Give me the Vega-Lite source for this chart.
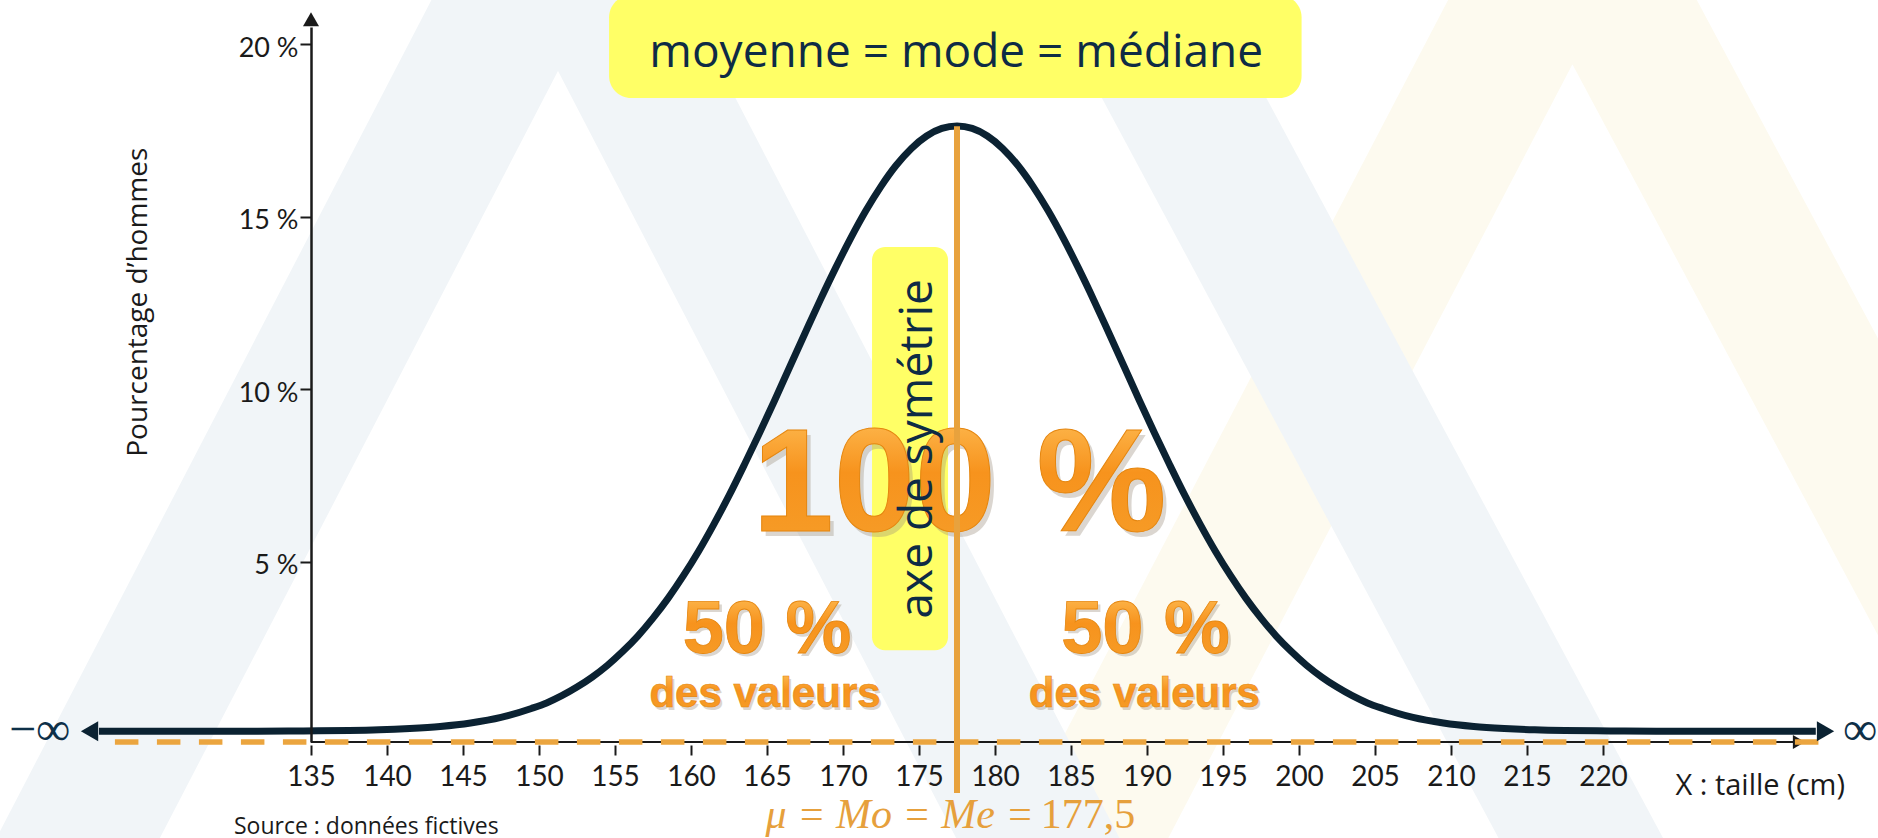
{
  "$schema": "https://vega.github.io/schema/vega-lite/v6.json",
  "autosize": {"type": "none"},
  "width": 1482,
  "height": 715,
  "padding": {"left": 311, "top": 27, "right": 85, "bottom": 96},
  "background": "white",
  "config": {"view": {"stroke": null}},
  "datasets": {
    "curve": [
      {"x": 121.05, "y": 0.08}, {"x": 124, "y": 0.08}, {"x": 127.5, "y": 0.08}, {"x": 131.5, "y": 0.08},
      {"x": 134.5, "y": 0.09}, {"x": 137.5, "y": 0.10}, {"x": 139.5, "y": 0.12}, {"x": 141.5, "y": 0.16},
      {"x": 143.5, "y": 0.22}, {"x": 145.5, "y": 0.32}, {"x": 147.5, "y": 0.48}, {"x": 149.5, "y": 0.74},
      {"x": 150.5, "y": 0.90}, {"x": 151.5, "y": 1.11}, {"x": 152.5, "y": 1.36}, {"x": 153.5, "y": 1.65},
      {"x": 154.5, "y": 1.99}, {"x": 155.5, "y": 2.39}, {"x": 156.5, "y": 2.84}, {"x": 157.5, "y": 3.36},
      {"x": 158.5, "y": 3.94}, {"x": 159.5, "y": 4.59}, {"x": 160.5, "y": 5.30}, {"x": 161.5, "y": 6.08},
      {"x": 162.5, "y": 6.91}, {"x": 163.5, "y": 7.80}, {"x": 164.5, "y": 8.72}, {"x": 165.5, "y": 9.67},
      {"x": 166.5, "y": 10.65}, {"x": 167.5, "y": 11.62}, {"x": 168.5, "y": 12.58}, {"x": 169.5, "y": 13.50},
      {"x": 170.5, "y": 14.37}, {"x": 171.5, "y": 15.17}, {"x": 172.5, "y": 15.88}, {"x": 173.5, "y": 16.49},
      {"x": 174.5, "y": 16.98}, {"x": 175.5, "y": 17.34}, {"x": 176.5, "y": 17.56}, {"x": 177.5, "y": 17.63},
      {"x": 178.5, "y": 17.56}, {"x": 179.5, "y": 17.34}, {"x": 180.5, "y": 16.98}, {"x": 181.5, "y": 16.49},
      {"x": 182.5, "y": 15.88}, {"x": 183.5, "y": 15.17}, {"x": 184.5, "y": 14.37}, {"x": 185.5, "y": 13.50},
      {"x": 186.5, "y": 12.58}, {"x": 187.5, "y": 11.62}, {"x": 188.5, "y": 10.65}, {"x": 189.5, "y": 9.67},
      {"x": 190.5, "y": 8.72}, {"x": 191.5, "y": 7.80}, {"x": 192.5, "y": 6.91}, {"x": 193.5, "y": 6.08},
      {"x": 194.5, "y": 5.30}, {"x": 195.5, "y": 4.59}, {"x": 196.5, "y": 3.94}, {"x": 197.5, "y": 3.36},
      {"x": 198.5, "y": 2.84}, {"x": 199.5, "y": 2.39}, {"x": 200.5, "y": 1.99}, {"x": 201.5, "y": 1.65},
      {"x": 202.5, "y": 1.36}, {"x": 203.5, "y": 1.11}, {"x": 204.5, "y": 0.90}, {"x": 205.5, "y": 0.74},
      {"x": 207.5, "y": 0.48}, {"x": 209.5, "y": 0.32}, {"x": 211.5, "y": 0.22}, {"x": 213.5, "y": 0.16},
      {"x": 215.5, "y": 0.12}, {"x": 217.5, "y": 0.10}, {"x": 220.5, "y": 0.09}, {"x": 223.5, "y": 0.08},
      {"x": 227.5, "y": 0.08}, {"x": 231, "y": 0.08}, {"x": 234.0, "y": 0.08}
    ],
    "stripesBlue": [
      {"s": "a", "o": 1, "x": 117.57, "y": -4.81}, {"s": "a", "o": 2, "x": 151.25, "y": 23.79}, {"s": "a", "o": 3, "x": 184.93, "y": -4.81},
      {"s": "b", "o": 1, "x": 187.24, "y": 22.72}, {"s": "b", "o": 2, "x": 220.72, "y": -4.81}
    ],
    "stripesCream": [
      {"s": "c", "o": 1, "x": 184.08, "y": -4.81}, {"s": "c", "o": 2, "x": 217.94, "y": 23.76}, {"s": "c", "o": 3, "x": 252.63, "y": -4.81}
    ]
  },
  "encoding": {
    "x": {
      "field": "x", "type": "quantitative",
      "scale": {"domain": [135, 232.5], "nice": false, "zero": false},
      "axis": {
        "values": [135, 140, 145, 150, 155, 160, 165, 170, 175, 180, 185, 190, 195, 200, 205, 210, 215, 220],
        "format": "d", "title": null, "domain": false, "grid": false, "offset": 3,
        "tickSize": 10, "tickWidth": 2, "tickColor": "#1a1a1a",
        "labelFont": "Lato", "labelFontSize": 28,
        "labelColor": "#1a1a1a", "labelPadding": 8, "labelFlush": false, "labelOverlap": false, "zindex": 1
      }
    },
    "y": {
      "field": "y", "type": "quantitative",
      "scale": {"domain": [-0.232, 20.5], "nice": false, "zero": false},
      "axis": {
        "values": [5, 10, 15, 20], "labelExpr": "datum.value + ' %'", "title": null, "grid": false,
        "domain": true, "domainColor": "#1a1a1a", "domainWidth": 2.5,
        "tickSize": 11, "tickWidth": 2, "tickColor": "#1a1a1a",
        "labelFont": "Lato", "labelFontSize": 27,
        "labelColor": "#1a1a1a", "labelPadding": 2, "labelOffset": 4, "zindex": 1
      }
    }
  },
  "layer": [
    {
      "data": {"name": "stripesCream"},
      "mark": {"type": "line", "color": "#FDFAEF", "strokeWidth": 140, "strokeJoin": "miter", "strokeCap": "butt"},
      "encoding": {"detail": {"field": "s"}, "order": {"field": "o"}}
    },
    {
      "data": {"name": "stripesBlue"},
      "mark": {"type": "line", "color": "#F1F5F8", "strokeWidth": 145, "strokeJoin": "miter", "strokeCap": "butt"},
      "encoding": {"detail": {"field": "s"}, "order": {"field": "o"}}
    },
    {
      "data": {"values": [{"x": 135, "x2": 232.5, "y": -0.232}]},
      "mark": {"type": "rule", "color": "#1a1a1a", "strokeWidth": 2},
      "encoding": {"x2": {"field": "x2"}}
    },
    {
      "data": {"values": [{"x": 232.89, "y": -0.232}]},
      "mark": {"type": "point", "shape": "triangle-right", "size": 196, "filled": true, "color": "#1a1a1a", "opacity": 1}
    },
    {
      "data": {"values": [{"x": 135, "y": 20.725}]},
      "mark": {"type": "point", "shape": "triangle-up", "size": 256, "filled": true, "color": "#1a1a1a", "opacity": 1}
    },
    {
      "data": {"values": [{"x": 122.1, "x2": 234.28, "y": -0.232}]},
      "mark": {"type": "rule", "color": "#EBA53F", "strokeWidth": 5.5, "strokeDash": [23.5, 18.5]},
      "encoding": {"x2": {"field": "x2"}}
    },
    {
      "data": {"name": "curve"},
      "mark": {"type": "line", "color": "#0B2232", "strokeWidth": 7, "interpolate": "monotone"}
    },
    {
      "data": {"values": [{"x": 120.43, "y": 0.08}]},
      "mark": {"type": "point", "shape": "triangle-left", "size": 400, "filled": true, "color": "#0B2232", "opacity": 1}
    },
    {
      "data": {"values": [{"x": 234.64, "y": 0.08}]},
      "mark": {"type": "point", "shape": "triangle-right", "size": 400, "filled": true, "color": "#0B2232", "opacity": 1}
    },
    {
      "data": {"values": [{"x": 154.61, "x2": 200.17, "y": 21.42, "y2": 18.44}]},
      "mark": {"type": "rect", "color": "#FFFF66", "cornerRadius": 22},
      "encoding": {"x2": {"field": "x2"}, "y2": {"field": "y2"}}
    },
    {
      "data": {"values": [{"x": 171.91, "x2": 176.91, "y": 14.12, "y2": 2.43}]},
      "mark": {"type": "rect", "color": "#FFFF66", "cornerRadius": 13},
      "encoding": {"x2": {"field": "x2"}, "y2": {"field": "y2"}}
    },
    {
      "data": {"values": [{"x": 177.45, "y": 19.33, "t": "moyenne = mode = médiane"}]},
      "mark": {"type": "text", "font": "Open Sans", "fontSize": 46, "color": "#0E2B45", "align": "center", "baseline": "alphabetic"},
      "encoding": {"text": {"field": "t"}}
    },
    {
      "data": {"values": [{"x": 177.66, "y": 5.88, "t": "100 %"}]},
      "mark": {"type": "text", "font": "Liberation Sans", "fontWeight": "bold", "fontSize": 146, "color": "#9A8C7A", "opacity": 0.35, "dx": 4, "dy": 5, "align": "center", "baseline": "alphabetic"},
      "encoding": {"text": {"field": "t"}}
    },
    {
      "data": {"values": [{"x": 177.66, "y": 5.88, "t": "100 %"}]},
      "mark": {"type": "text", "font": "Liberation Sans", "fontWeight": "bold", "fontSize": 146, "align": "center", "baseline": "alphabetic",
        "fill": {"gradient": "linear", "x1": 0, "y1": 0, "x2": 0, "y2": 1, "stops": [{"offset": 0, "color": "#FFC45E"}, {"offset": 0.45, "color": "#F7931D"}, {"offset": 0.8, "color": "#F69A25"}, {"offset": 1, "color": "#FDB648"}]},
        "stroke": "#E5860F", "strokeWidth": 1},
      "encoding": {"text": {"field": "t"}}
    },
    {
      "data": {"values": [{"x": 165.0, "y": 2.35, "t": "50 %"}, {"x": 189.9, "y": 2.35, "t": "50 %"}]},
      "mark": {"type": "text", "font": "Liberation Sans", "fontWeight": "bold", "fontSize": 74, "color": "#9A8C7A", "opacity": 0.35, "dx": 3, "dy": 3, "align": "center", "baseline": "alphabetic"},
      "encoding": {"text": {"field": "t"}}
    },
    {
      "data": {"values": [{"x": 165.0, "y": 2.35, "t": "50 %"}, {"x": 189.9, "y": 2.35, "t": "50 %"}]},
      "mark": {"type": "text", "font": "Liberation Sans", "fontWeight": "bold", "fontSize": 74, "align": "center", "baseline": "alphabetic",
        "fill": {"gradient": "linear", "x1": 0, "y1": 0, "x2": 0, "y2": 1, "stops": [{"offset": 0, "color": "#FFC45E"}, {"offset": 0.45, "color": "#F7931D"}, {"offset": 0.8, "color": "#F69A25"}, {"offset": 1, "color": "#FDB648"}]},
        "stroke": "#E5860F", "strokeWidth": 0.8},
      "encoding": {"text": {"field": "t"}}
    },
    {
      "data": {"values": [{"x": 164.87, "y": 0.78, "t": "des valeurs"}, {"x": 189.83, "y": 0.78, "t": "des valeurs"}]},
      "mark": {"type": "text", "font": "Liberation Sans", "fontWeight": "bold", "fontSize": 42, "color": "#9A8C7A", "opacity": 0.35, "dx": 2, "dy": 3, "align": "center", "baseline": "alphabetic"},
      "encoding": {"text": {"field": "t"}}
    },
    {
      "data": {"values": [{"x": 164.87, "y": 0.78, "t": "des valeurs"}, {"x": 189.83, "y": 0.78, "t": "des valeurs"}]},
      "mark": {"type": "text", "font": "Liberation Sans", "fontWeight": "bold", "fontSize": 42, "align": "center", "baseline": "alphabetic",
        "fill": {"gradient": "linear", "x1": 0, "y1": 0, "x2": 0, "y2": 1, "stops": [{"offset": 0, "color": "#FFC45E"}, {"offset": 0.45, "color": "#F7931D"}, {"offset": 0.8, "color": "#F69A25"}, {"offset": 1, "color": "#FDB648"}]},
        "stroke": "#E5860F", "strokeWidth": 0.6},
      "encoding": {"text": {"field": "t"}}
    },
    {
      "data": {"values": [{"x": 175.86, "y": 8.27, "t": "axe de symétrie"}]},
      "mark": {"type": "text", "font": "Open Sans", "fontSize": 46, "color": "#0E2B45", "angle": 270, "align": "center", "baseline": "alphabetic"},
      "encoding": {"text": {"field": "t"}}
    },
    {
      "data": {"values": [{"x": 177.5, "y": 17.62, "y2": -1.71}]},
      "mark": {"type": "rule", "color": "#E8A23D", "strokeWidth": 6},
      "encoding": {"y2": {"field": "y2"}}
    },
    {
      "data": {"values": [{"x": 182.75, "y": -2.72, "t": "μ = Mo = Me ="}]},
      "mark": {"type": "text", "font": "Liberation Serif", "fontStyle": "italic", "fontSize": 42, "color": "#E6A03C", "align": "right", "dx": -3, "baseline": "alphabetic"},
      "encoding": {"text": {"field": "t"}}
    },
    {
      "data": {"values": [{"x": 182.75, "y": -2.72, "t": "177,5"}]},
      "mark": {"type": "text", "font": "Liberation Serif", "fontSize": 42, "color": "#E6A03C", "align": "left", "dx": 4, "baseline": "alphabetic"},
      "encoding": {"text": {"field": "t"}}
    },
    {
      "data": {"values": [{"x": 115.13, "y": -0.32, "t": "−∞"}, {"x": 235.79, "y": -0.32, "t": "∞"}]},
      "mark": {"type": "text", "font": "Liberation Serif", "fontSize": 48, "color": "#0E3048", "align": "left", "baseline": "alphabetic"},
      "encoding": {"text": {"field": "t"}}
    },
    {
      "data": {"values": [{"x": 235.92, "y": -1.77, "t": "X : taille (cm)"}]},
      "mark": {"type": "text", "font": "Open Sans", "fontSize": 29, "color": "#1a1a1a", "align": "right", "baseline": "alphabetic"},
      "encoding": {"text": {"field": "t"}}
    },
    {
      "data": {"values": [{"x": 124.2, "y": 12.52, "t": "Pourcentage d’hommes"}]},
      "mark": {"type": "text", "font": "Open Sans", "fontSize": 28, "color": "#1a1a1a", "angle": 270, "align": "center", "baseline": "alphabetic"},
      "encoding": {"text": {"field": "t"}}
    },
    {
      "data": {"values": [{"x": 129.93, "y": -2.91, "t": "Source : données fictives"}]},
      "mark": {"type": "text", "font": "Open Sans", "fontSize": 23, "color": "#1a1a1a", "align": "left", "baseline": "alphabetic"},
      "encoding": {"text": {"field": "t"}}
    }
  ]
}
